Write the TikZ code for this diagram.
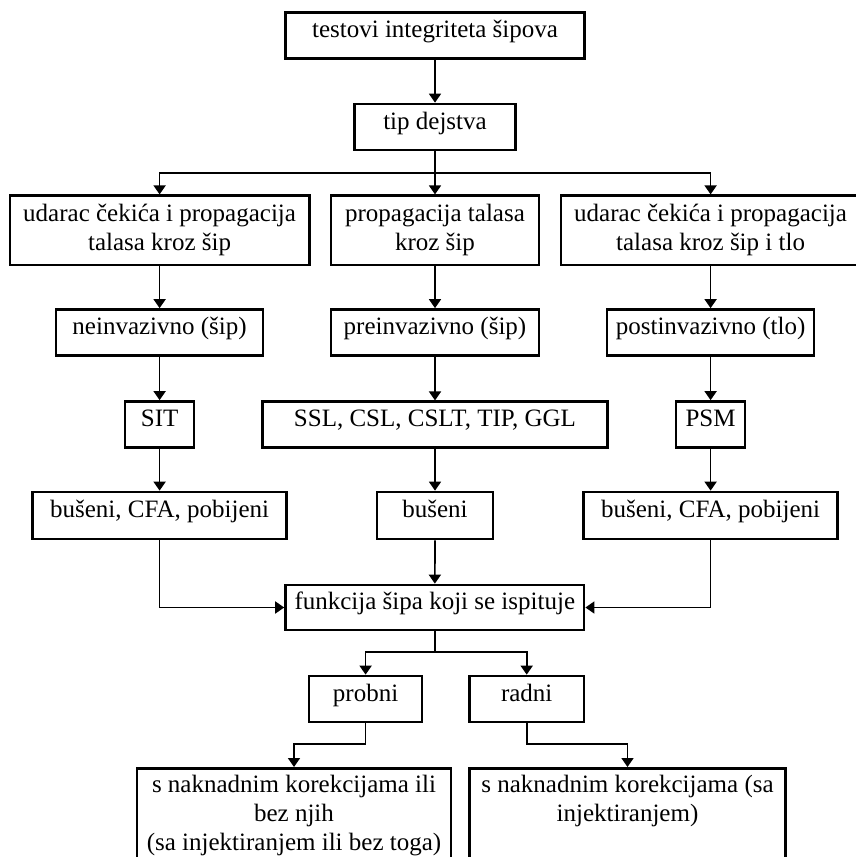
\documentclass[tikz,border=0pt]{standalone}
\usepackage{fontspec}
\setmainfont{Liberation Serif}
\usetikzlibrary{arrows.meta}

\begin{document}
\begin{tikzpicture}[x=1pt,y=-1pt,
  txt/.style={font=\fontsize{25}{29}\selectfont},
  box/.style={txt, draw, line width=2.7pt, inner sep=0pt, align=center},
  onebox/.style={box, text height=17pt, text depth=13pt, minimum height=46pt},
  twobox/.style={box, minimum height=69.3pt},
  conn/.style={line width=1.7pt},
  arr/.style={conn, -{Triangle[width=12pt,length=9pt]}}
]
\useasboundingbox (0,0) rectangle (856,857);
\fill[white] (0,0) rectangle (856,857);
\clip (0,0) rectangle (856,857);

% level 1 and 2
\node[onebox, minimum width=299pt] (top) at (435,35.5) {testovi integriteta šipova};
\node[onebox, minimum width=161pt] (tip) at (435,127) {tip dejstva};

% kind of excitation
\node[twobox, minimum width=299.5pt] (L1) at (159.6,230.4) {udarac čekića i propagacija\\talasa kroz šip};
\node[twobox, minimum width=208pt]   (M1) at (435,230.4)   {propagacija talasa\\kroz šip};
\node[twobox, minimum width=299.5pt] (R1) at (710.6,230.4) {udarac čekića i propagacija\\talasa kroz šip i tlo};

% invasiveness
\node[onebox, minimum width=207pt] (L2) at (159.6,332.5) {neinvazivno (šip)};
\node[onebox, minimum width=208pt] (M2) at (435,332.5)   {preinvazivno (šip)};
\node[onebox, minimum width=207pt] (R2) at (710.6,332.5) {postinvazivno (tlo)};

% methods
\node[onebox, minimum width=69pt]    (L3) at (159.6,424.5) {SIT};
\node[onebox, minimum width=344.5pt] (M3) at (435,424.8)   {SSL, CSL, CSLT, TIP, GGL};
\node[onebox, minimum width=69pt]    (R3) at (710.6,424.5) {PSM};

% pile types
\node[onebox, minimum width=253.6pt, minimum height=47pt] (L4) at (159.6,515.5) {bušeni, CFA, pobijeni};
\node[onebox, minimum width=116pt,   minimum height=47pt] (M4) at (435,515.5)   {bušeni};
\node[onebox, minimum width=254pt,   minimum height=47pt] (R4) at (710.6,515.5) {bušeni, CFA, pobijeni};

% function of the tested pile
\node[onebox, minimum width=298.5pt, minimum height=45pt] (fun) at (434.8,607.5) {funkcija šipa koji se ispituje};
\node[onebox, minimum width=113pt]   (prob) at (365.6,699) {probni};
\node[onebox, minimum width=114.6pt] (rad)  at (526.7,699) {radni};

% bottom boxes (continue below the page edge)
\node[box, anchor=north, minimum width=314pt, minimum height=130pt] (BL) at (294,767) {};
\node[txt, anchor=north, align=center, inner sep=0pt] (BLt) at (294,774.5)
  {s naknadnim korekcijama ili\\bez njih\\(sa injektiranjem ili bez toga)};
\node[box, anchor=north, minimum width=316.6pt, minimum height=130pt] (BR) at (627.5,767) {};
\node[txt, anchor=north, align=center, inner sep=0pt] (BRt) at (627.5,774.5)
  {s naknadnim korekcijama (sa\\injektiranjem)};

% junction points
\coordinate (j1) at (435,172.7);
\coordinate (j2) at (434.8,652.3);
\coordinate (k1) at (0,744);

% connectors
\draw[arr] (top) -- (tip);
\draw[conn] (tip.south) -- (j1);
\draw[arr] (j1) -| (L1.north);
\draw[arr] (j1) -- (M1.north);
\draw[arr] (j1) -| (R1.north);

\draw[arr] (L1) -- (L2);
\draw[arr] (M1) -- (M2);
\draw[arr] (R1) -- (R2);
\draw[arr] (L2) -- (L3);
\draw[arr] (M2) -- (M3);
\draw[arr] (R2) -- (R3);
\draw[arr] (L3) -- (L4);
\draw[arr] (M3) -- (M4);
\draw[arr] (R3) -- (R4);

\draw[arr] (L4.south) |- (fun.west);
\draw[arr] (M4) -- (fun);
\draw[arr] (R4.south) |- (fun.east);

\draw[conn] (fun.south) -- (j2);
\draw[arr] (j2) -| (prob.north);
\draw[arr] (j2) -| (rad.north);

\draw[arr] (prob.south) -- (prob.south |- k1) -| (BL.north);
\draw[arr] (rad.south) -- (rad.south |- k1) -| (BR.north);
\end{tikzpicture}
\end{document}
